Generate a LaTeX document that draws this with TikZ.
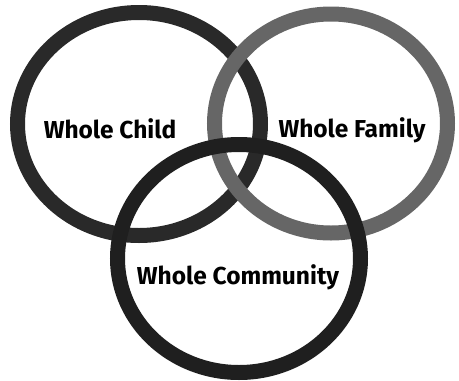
\documentclass[tikz,border=0pt]{standalone}
\usepackage{fontspec}
\setmainfont{Fira Sans}

\begin{document}
\begin{tikzpicture}[x=1pt, y=-1pt,
    ring/.style={line width=15pt},
    ringlabel/.style={font=\fontsize{24.5}{28}\selectfont\bfseries, inner sep=0pt}]

  % 页面大小
  \useasboundingbox (0,0) rectangle (459,381);

  % 三个圆环
  \draw[ring, black!84] (139,124) ellipse[x radius=121.5, y radius=111.5];
  \draw[ring, black!60] (331,123.5) ellipse[x radius=116.5, y radius=109.5];
  \draw[ring, black!88] (239,258.5) ellipse[x radius=121.5, y radius=114];

  % 文字
  \node[ringlabel] (child) at (110,129) {Whole Child};
  \node[ringlabel] (family) at (352,130) {Whole Family};
  \node[ringlabel] (community) at (238,277) {Whole Community};

\end{tikzpicture}
\end{document}
